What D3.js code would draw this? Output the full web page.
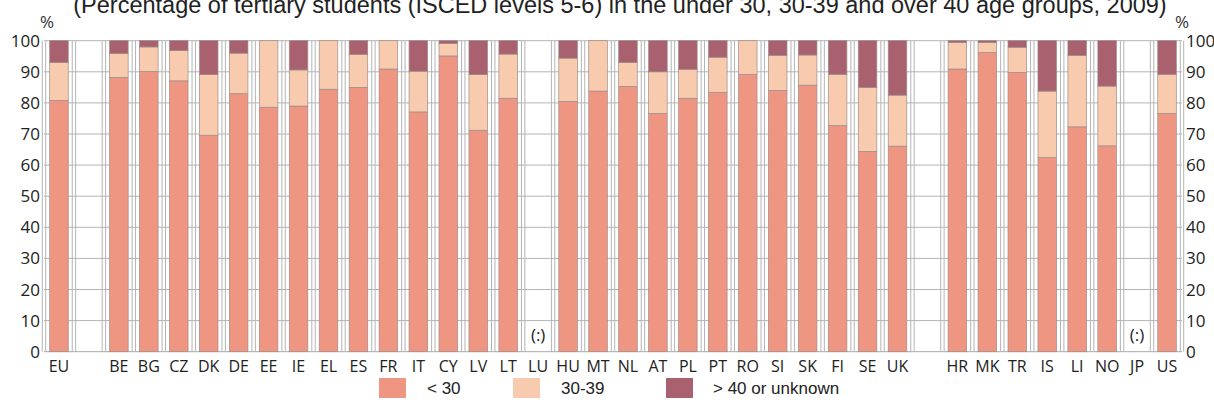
<!DOCTYPE html>
<html>
<head>
<meta charset="utf-8">
<script src="https://cdn.jsdelivr.net/npm/d3@7"></script>
<style>
  html, body { margin: 0; padding: 0; background: #ffffff; }
  svg { display: block; }
</style>
</head>
<body>
<svg id="chart" width="1214" height="417"></svg>
<script>
// ---- data (percentages, 2009) ----
const categories = ["EU", "", "BE", "BG", "CZ", "DK", "DE", "EE", "IE", "EL", "ES", "FR", "IT", "CY", "LV", "LT", "LU",
  "HU", "MT", "NL", "AT", "PL", "PT", "RO", "SI", "SK", "FI", "SE", "UK", " ", "HR", "MK", "TR", "IS", "LI", "NO", "JP", "US"];
// null = not available (:) or blank slot
const under30 = [80.8, null, 88.2, 90.1, 87.1, 69.6, 83.0, 78.6, 79.0, 84.4, 85.0, 90.9, 77.1, 95.1, 71.2, 81.5, null,
  80.5, 83.8, 85.3, 76.6, 81.5, 83.4, 89.1, 84.0, 85.7, 72.7, 64.4, 66.1, null, 90.9, 96.2, 89.8, 62.4, 72.3, 66.2, null, 76.6];
const age30to39 = [12.2, null, 7.7, 7.9, 9.7, 19.5, 13.0, 21.4, 11.6, 15.6, 10.6, 9.1, 13.1, 4.0, 17.9, 14.2, null,
  13.9, 16.2, 7.7, 13.4, 9.3, 11.3, 10.9, 11.3, 9.7, 16.5, 20.6, 16.4, null, 8.5, 3.2, 8.1, 21.4, 23.0, 19.2, null, 12.6];
const over40 = [7.0, null, 4.1, 2.0, 3.2, 10.9, 4.0, 0.0, 9.4, 0.0, 4.4, 0.0, 9.8, 0.9, 10.9, 4.3, null,
  5.6, 0.0, 7.0, 10.0, 9.2, 5.3, 0.0, 4.7, 4.6, 10.8, 15.0, 17.5, null, 0.6, 0.6, 2.1, 16.2, 4.7, 14.6, null, 10.8];
const notAvailable = ["LU", "JP"];
const seriesNames = ["< 30", "30-39", "> 40 or unknown"];
const seriesColors = ["#ef9683", "#f8cbae", "#a9606f"];
const yTicks = [0, 10, 20, 30, 40, 50, 60, 70, 80, 90, 100];
const titleText = "(Percentage of tertiary students (ISCED levels 5-6) in the under 30, 30-39 and over 40 age groups, 2009)";

// ---- layout ----
const svg = d3.select("#chart");
const plotLeft = 44, plotRight = 1182, plotTop = 40.7, plotBottom = 351.7;
const slotKeys = categories.map((c, i) => i);
const x = d3.scaleBand().domain(slotKeys).range([plotLeft, plotRight]).paddingInner(0).paddingOuter(0);
const y = d3.scaleLinear().domain([0, 100]).range([plotBottom, plotTop]);
const barW = x.bandwidth() * 0.62;

const gridColor = "#b4b4b4";
const axisFont = "'Open Sans', 'Noto Sans', sans-serif";

// horizontal gridlines
svg.append("g").selectAll("line").data(yTicks).join("line")
  .attr("x1", plotLeft).attr("x2", plotRight)
  .attr("y1", d => y(d)).attr("y2", d => y(d))
  .attr("stroke", d => d === 0 ? "#a8a8a8" : gridColor).attr("stroke-width", 1);

// vertical boundary lines (pairs)
const bounds = slotKeys.map(k => x(k)).concat([plotRight]);
const vg = svg.append("g");
bounds.forEach(b => {
  [-1.7, 1.7].forEach(off => {
    vg.append("line").attr("x1", b + off).attr("x2", b + off)
      .attr("y1", plotTop).attr("y2", plotBottom)
      .attr("stroke", gridColor).attr("stroke-width", 1);
  });
});

// stacked bars
const rows = categories.map((c, i) => ({ i, c, vals: [under30[i], age30to39[i], over40[i]] }))
  .filter(r => r.vals[0] !== null);
const bars = svg.append("g");
rows.forEach(r => {
  let cum = 0;
  r.vals.forEach((v, s) => {
    if (v <= 0) { cum += v; return; }
    const y0 = cum, y1 = Math.min(100, cum + v);
    bars.append("rect")
      .attr("x", x(r.i) + (x.bandwidth() - barW) / 2)
      .attr("width", barW)
      .attr("y", y(y1))
      .attr("height", y(y0) - y(y1))
      .attr("fill", seriesColors[s])
      .attr("stroke", "#9c8c88").attr("stroke-width", 0.7);
    cum += v;
  });
});

// not-available markers
svg.append("g").selectAll("text").data(notAvailable).join("text")
  .attr("x", d => x(categories.indexOf(d)) + x.bandwidth() / 2)
  .attr("y", y(3.4))
  .attr("text-anchor", "middle")
  .attr("font-family", axisFont).attr("font-size", 17).attr("fill", "#222")
  .text("(:)");

// left & right y tick labels
svg.append("g").selectAll("text").data(yTicks).join("text")
  .attr("x", 40).attr("y", d => y(d) + 6)
  .attr("text-anchor", "end")
  .attr("font-family", axisFont).attr("font-size", 17).attr("fill", "#222")
  .text(d => d);
svg.append("g").selectAll("text").data(yTicks).join("text")
  .attr("x", 1186).attr("y", d => y(d) + 6)
  .attr("text-anchor", "start")
  .attr("font-family", axisFont).attr("font-size", 17).attr("fill", "#222")
  .text(d => d);

// % unit labels
svg.append("text").attr("x", 47).attr("y", 28).attr("text-anchor", "middle")
  .attr("font-family", axisFont).attr("font-size", 17).attr("fill", "#333").text("%");
svg.append("text").attr("x", 1182).attr("y", 28).attr("text-anchor", "middle")
  .attr("font-family", axisFont).attr("font-size", 17).attr("fill", "#333").text("%");

// category labels
svg.append("g").selectAll("text").data(categories.map((c, i) => ({ c, i })).filter(d => d.c.trim() !== "")).join("text")
  .attr("x", d => x(d.i) + x.bandwidth() / 2)
  .attr("y", 372)
  .attr("text-anchor", "middle")
  .attr("font-family", axisFont).attr("font-size", 16).attr("fill", "#222")
  .text(d => d.c);

// title (partly cut at top, as in the reference)
svg.append("text").attr("x", 620).attr("y", 13).attr("text-anchor", "middle")
  .attr("font-family", "'Liberation Sans', Arial, sans-serif").attr("font-size", 23.5).attr("fill", "#222")
  .text(titleText);

// legend
const legendX = [379, 513, 666];
const legendTextX = [427, 561, 713];
const lg = svg.append("g");
seriesNames.forEach((n, s) => {
  lg.append("rect").attr("x", legendX[s]).attr("y", 378).attr("width", 27).attr("height", 20)
    .attr("fill", seriesColors[s]);
  lg.append("text").attr("x", legendTextX[s]).attr("y", 394)
    .attr("font-family", "'Liberation Sans', Arial, sans-serif").attr("font-size", 17).attr("fill", "#222")
    .text(n);
});
</script>
</body>
</html>
